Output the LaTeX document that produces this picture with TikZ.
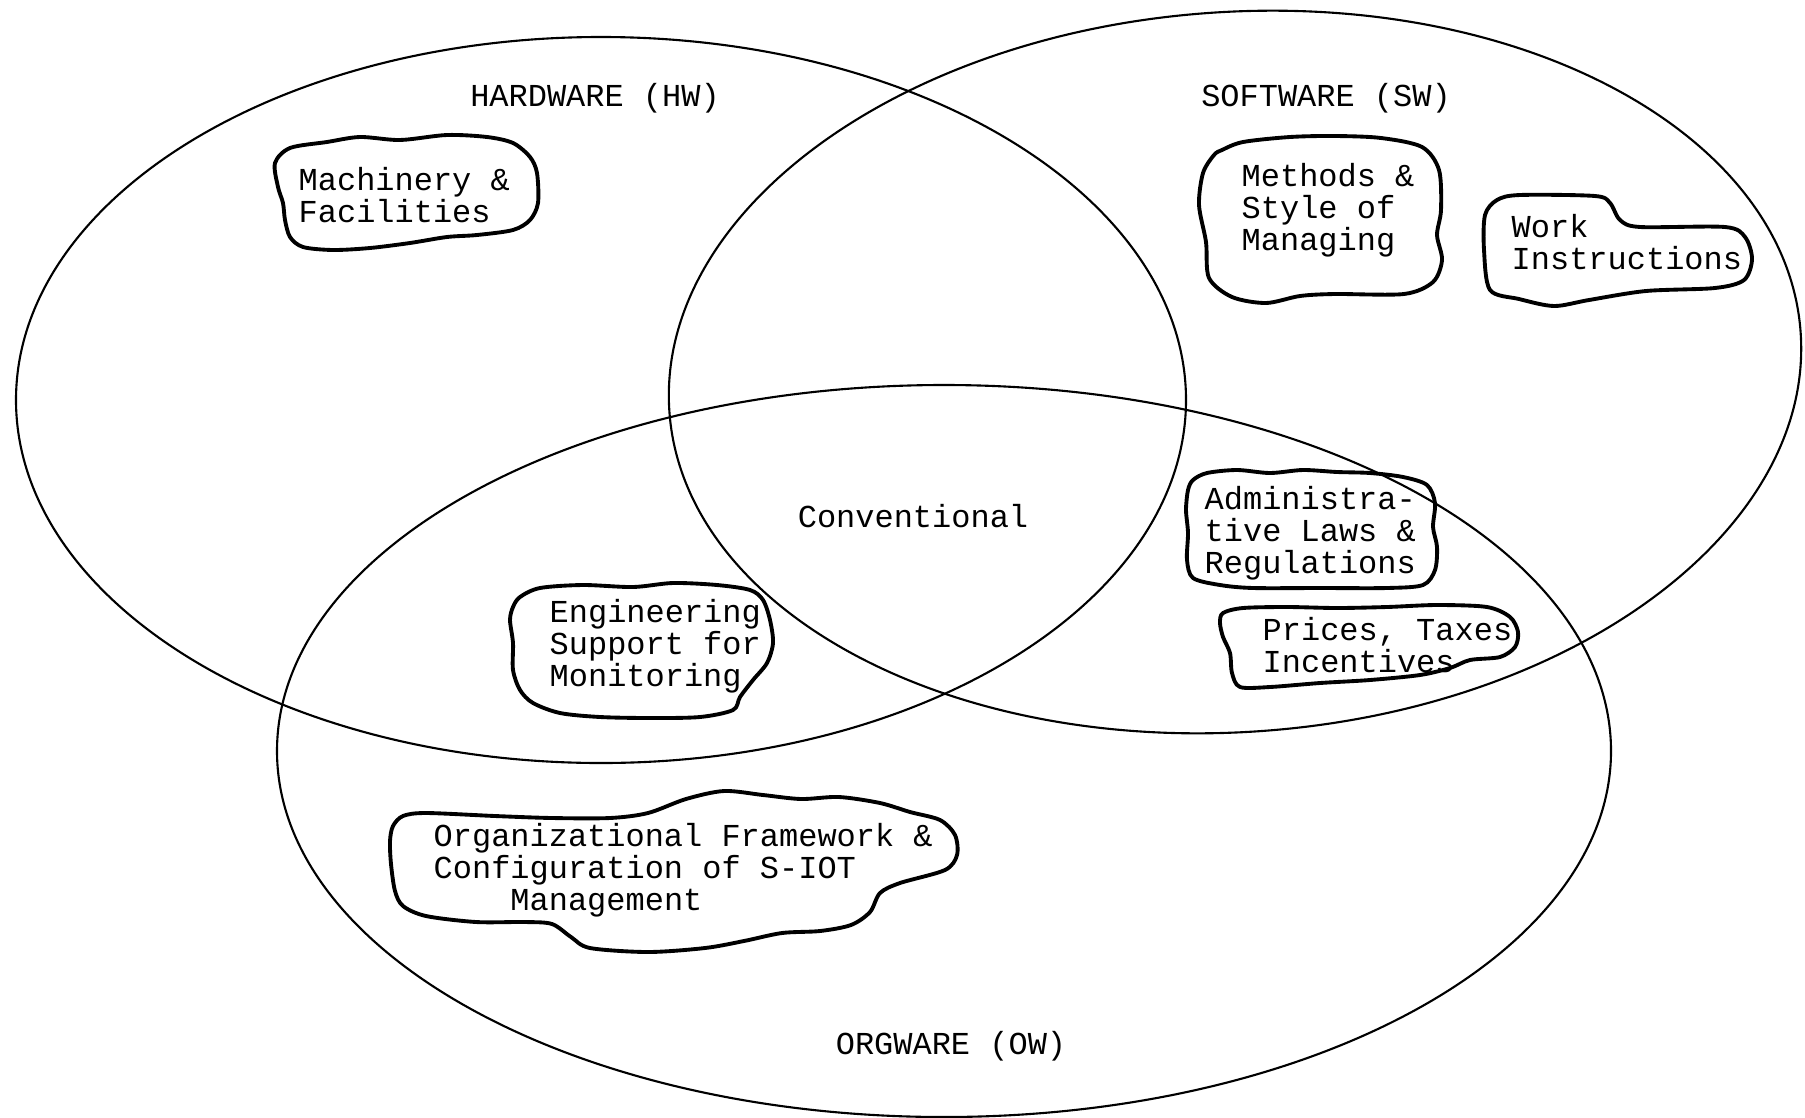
\documentclass[tikz,border=0pt]{standalone}
\usepackage{fontspec}
\setmonofont{Liberation Mono}
\usepackage{tikz}
\tikzset{
  ware/.style={line width=0.6pt},
  blob/.style={line width=1.1pt,line join=round},
  txt/.style={font=\fontsize{9.1pt}{9.1pt}\selectfont\ttfamily,align=left,inner sep=0pt,anchor=west},
  lbl/.style={font=\fontsize{9.1pt}{9.1pt}\selectfont\ttfamily,inner sep=0pt}
}

\begin{document}
\begin{tikzpicture}
%\draw[help lines] (0,-11.17) grid (18.05,0);
\useasboundingbox (0,0) rectangle (18.05,-11.17);

% the three wares
\draw[ware] (6.01,-4.00) ellipse (5.85 and 3.63);
\draw[ware,rotate around={4:(12.35,-3.72)}] (12.35,-3.72) ellipse (5.67 and 3.60);
\draw[ware] (9.44,-7.51) ellipse (6.67 and 3.66);

\node[lbl] (hw) at (5.95,-0.98) {HARDWARE (HW)};
\node[lbl] (sw) at (13.26,-0.98) {SOFTWARE (SW)};
\node[lbl] (ow) at (9.51,-10.46) {ORGWARE (OW)};
\node[lbl] (conv) at (9.13,-5.16) {Conventional};

% HW
\draw[blob] plot[smooth cycle] coordinates {(2.75,-1.63) (2.90,-1.48) (3.27,-1.42) (3.60,-1.37) (4.00,-1.40) (4.47,-1.35) (4.87,-1.37) (5.13,-1.43) (5.30,-1.57) (5.37,-1.73) (5.38,-2.03) (5.30,-2.20) (5.13,-2.30) (4.77,-2.35) (4.47,-2.37) (4.10,-2.43) (3.70,-2.48) (3.33,-2.50) (3.03,-2.47) (2.90,-2.37) (2.85,-2.20) (2.83,-2.03) (2.78,-1.87)};
\node[txt] (mach) at (2.98,-1.95) {Machinery \&\\Facilities};

% SW
\draw[blob] plot[smooth cycle] coordinates {(12.03,-1.73) (12.14,-1.55) (12.22,-1.50) (12.43,-1.42) (12.90,-1.37) (13.35,-1.36) (13.81,-1.38) (14.22,-1.47) (14.39,-1.70) (14.41,-2.10) (14.37,-2.35) (14.42,-2.60) (14.33,-2.82) (14.04,-2.94) (13.35,-2.94) (13.00,-2.96) (12.66,-3.03) (12.32,-2.97) (12.09,-2.78) (12.06,-2.42) (11.99,-2.05)};
\node[txt] (meth) at (12.41,-2.10) {Methods \&\\Style of\\Managing};

\draw[blob] plot[smooth cycle] coordinates {(14.85,-2.15) (14.97,-2.00) (15.20,-1.95) (15.95,-1.96) (16.10,-2.03) (16.20,-2.20) (16.40,-2.27) (17.25,-2.27) (17.45,-2.37) (17.52,-2.59) (17.44,-2.80) (17.15,-2.88) (16.46,-2.91) (15.89,-3.00) (15.54,-3.06) (15.19,-2.99) (14.90,-2.90) (14.84,-2.50)};
\node[txt] (work) at (15.11,-2.42) {Work\\Instructions};

% SW and OW
\draw[blob] plot[smooth cycle] coordinates {(11.93,-4.80) (12.07,-4.73) (12.37,-4.70) (12.70,-4.73) (13.03,-4.70) (13.37,-4.72) (13.70,-4.73) (14.03,-4.77) (14.27,-4.85) (14.35,-5.03) (14.33,-5.27) (14.37,-5.47) (14.35,-5.70) (14.23,-5.85) (13.87,-5.88) (13.20,-5.88) (12.53,-5.88) (12.20,-5.85) (11.93,-5.78) (11.87,-5.60) (11.88,-5.33) (11.86,-5.10) (11.88,-4.90)};
\node[txt] (admin) at (12.04,-5.33) {Administra-\\tive Laws \&\\Regulations};

\draw[blob] plot[smooth cycle] coordinates {(12.23,-6.13) (12.43,-6.08) (12.87,-6.07) (13.37,-6.08) (13.87,-6.07) (14.37,-6.05) (14.87,-6.07) (15.10,-6.17) (15.18,-6.32) (15.15,-6.47) (15.00,-6.57) (14.70,-6.60) (14.50,-6.68) (14.20,-6.75) (13.70,-6.80) (13.20,-6.83) (12.70,-6.87) (12.40,-6.87) (12.32,-6.73) (12.30,-6.53) (12.23,-6.37) (12.20,-6.23)};
\node[txt] (price) at (12.62,-6.45) {Prices, Taxes\\Incentives};

% HW and OW
\draw[blob] plot[smooth cycle] coordinates {(5.20,-5.97) (5.40,-5.88) (5.83,-5.85) (6.33,-5.87) (6.73,-5.83) (7.17,-5.85) (7.50,-5.90) (7.63,-6.00) (7.70,-6.20) (7.73,-6.43) (7.67,-6.63) (7.53,-6.80) (7.40,-6.97) (7.33,-7.10) (7.00,-7.17) (6.50,-7.18) (6.00,-7.17) (5.60,-7.13) (5.33,-7.03) (5.20,-6.90) (5.13,-6.70) (5.13,-6.43) (5.10,-6.20) (5.13,-6.07)};
\node[txt] (eng) at (5.49,-6.46) {Engineering\\Support for\\Monitoring};

% OW
\draw[blob] plot[smooth cycle] coordinates {(4.03,-8.16) (4.26,-8.13) (4.95,-8.16) (5.52,-8.18) (6.10,-8.18) (6.48,-8.13) (6.86,-7.99) (7.24,-7.91) (7.63,-7.95) (8.01,-7.99) (8.39,-7.97) (8.80,-8.03) (9.10,-8.12) (9.40,-8.20) (9.55,-8.35) (9.57,-8.55) (9.45,-8.70) (9.00,-8.83) (8.80,-8.93) (8.70,-9.12) (8.51,-9.25) (8.20,-9.31) (7.82,-9.33) (7.44,-9.41) (7.05,-9.48) (6.48,-9.52) (5.90,-9.48) (5.71,-9.37) (5.52,-9.24) (5.25,-9.22) (4.76,-9.22) (4.26,-9.16) (4.03,-9.06) (3.95,-8.91) (3.91,-8.64) (3.90,-8.41) (3.93,-8.26)};
\node[txt] (org) at (4.33,-8.70) {Organizational Framework \&\\Configuration of S-IOT\\\phantom{xxxx}Management};
\end{tikzpicture}
\end{document}
